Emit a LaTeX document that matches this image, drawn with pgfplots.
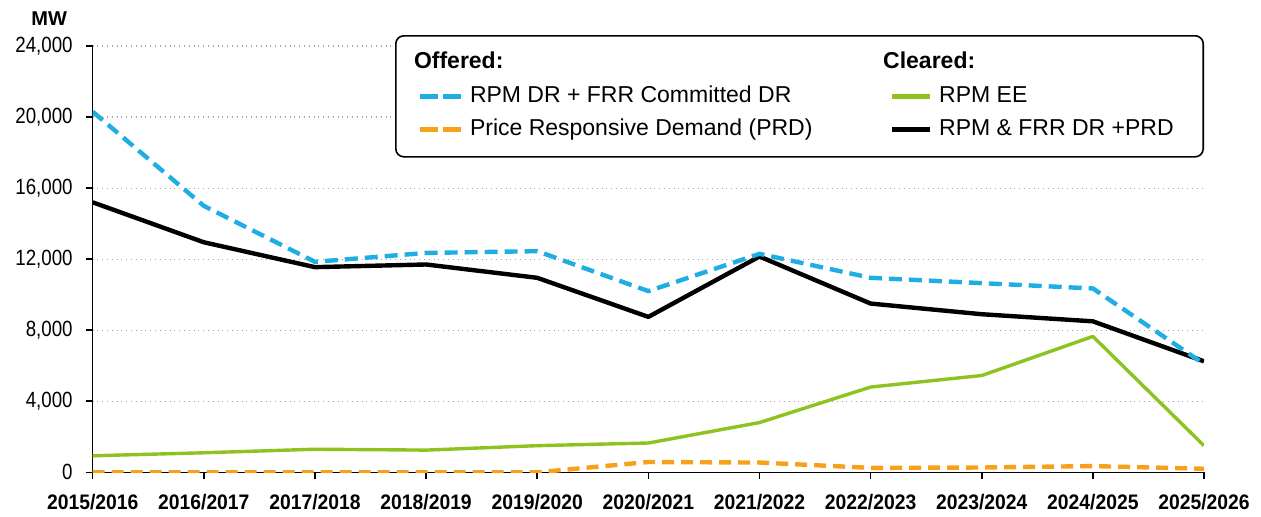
\documentclass[border=0pt]{standalone}
\usepackage{pgfplots}
\pgfplotsset{compat=1.18}
\usepackage{fontspec}
\setmainfont{Liberation Sans}
\newfontfamily\condfont{Liberation Sans}[FakeStretch=0.85]
\newfontfamily\condbold{Liberation Sans Bold}[FakeStretch=0.92]
\definecolor{cblue}{HTML}{1FAEE3}
\definecolor{corange}{HTML}{F7A11A}
\definecolor{cgreen}{HTML}{8DC21F}
\begin{document}
\begin{tikzpicture}
\useasboundingbox (-46.35pt,-21.85pt) rectangle (584.15pt,236.15pt);
\begin{axis}[
  anchor=origin, at={(0pt,0pt)},
  scale only axis,
  width=555.65pt, height=213.15pt,
  xmin=0, xmax=10, ymin=0, ymax=24000,
  axis x line=bottom, axis y line=left,
  axis line style={-, black, line width=0.8pt},
  xtick={0,...,10},
  xticklabels={2015/2016,2016/2017,2017/2018,2018/2019,2019/2020,2020/2021,2021/2022,2022/2023,2023/2024,2024/2025,2025/2026},
  ytick={0,4000,...,24000},
  scaled y ticks=false,
  /pgf/number format/assume math mode=true,
  /pgf/number format/1000 sep={,},
  /pgf/number format/fixed,
  yticklabel style={font=\condfont\fontsize{11}{13}\selectfont, xshift=-3pt},
  xticklabel style={font=\condbold\fontsize{10.5}{12}\selectfont, yshift=-4pt},
  tick align=outside, major tick length=3.5pt,
  tick style={black, line width=0.8pt},
  ymajorgrids, major grid style={gray!70, dotted, line width=0.6pt},
  legend style={at={(rel axis cs:1,1.0258)}, anchor=north east,
    draw=black, line width=0.8pt, rounded corners=4pt,
    font=\fontsize{11.5}{13}\selectfont, inner xsep=11pt, inner ysep=7pt,
    row sep=3.75pt,
    nodes={inner ysep=1pt, text height=8.5pt, text depth=2.5pt},
    /tikz/every odd column/.append style={column sep=1.2pt},
    /tikz/every even column/.append style={column sep=0pt}},
  legend columns=2,
  legend cell align=left,
]
\addlegendimage{empty legend}
\addlegendentry{\hspace*{-28pt}\textbf{Offered:}}
\addlegendimage{empty legend}
\addlegendentry{\hspace*{-28pt}\textbf{Cleared:}}
\addlegendimage{cblue, line width=2.4pt, legend image code/.code={\draw[dash pattern=on 9pt off 2.5pt] (0pt,0pt) -- (20.5pt,0pt);}}
\addlegendentry{\makebox[208pt][l]{RPM DR + FRR Committed DR}}
\addlegendimage{cgreen, line width=2.4pt, legend image code/.code={\draw (0pt,0pt) -- (19pt,0pt);}}
\addlegendentry{\makebox[119pt][l]{RPM EE}}
\addlegendimage{corange, line width=2.4pt, legend image code/.code={\draw[dash pattern=on 9pt off 2.5pt] (0pt,0pt) -- (20.5pt,0pt);}}
\addlegendentry{Price Responsive Demand (PRD)}
\addlegendimage{black, line width=2.4pt, legend image code/.code={\draw (0pt,0pt) -- (19pt,0pt);}}
\addlegendentry{RPM \& FRR DR +PRD}

\addplot[forget plot, cgreen, line width=1.7pt, line join=round] coordinates {
(0,930) (1,1100) (2,1300) (3,1250) (4,1500) (5,1650) (6,2800) (7,4800) (8,5450) (9,7650) (10,1500)};
\addplot[forget plot, black, line width=2.2pt, line join=round] coordinates {
(0,15200) (1,12950) (2,11550) (3,11700) (4,10950) (5,8750) (6,12150) (7,9500) (8,8900) (9,8500) (10,6250)};
\addplot[forget plot, cblue, line width=2.2pt, dash pattern=on 6.5pt off 3.5pt] coordinates {
(0,20300) (1,15000) (2,11850) (3,12350) (4,12450) (5,10200) (6,12300) (7,10950) (8,10650) (9,10350) (10,6100)};
\addplot[forget plot, corange, line width=2.2pt, dash pattern=on 6pt off 3.5pt] coordinates {
(0,0) (1,0) (2,0) (3,0) (4,0) (5,580) (6,550) (7,250) (8,270) (9,350) (10,200)};
\end{axis}
\node[font=\fontsize{10}{12}\selectfont\bfseries, anchor=base east] at (-9.35pt,223.65pt) {MW};
\end{tikzpicture}
\end{document}
